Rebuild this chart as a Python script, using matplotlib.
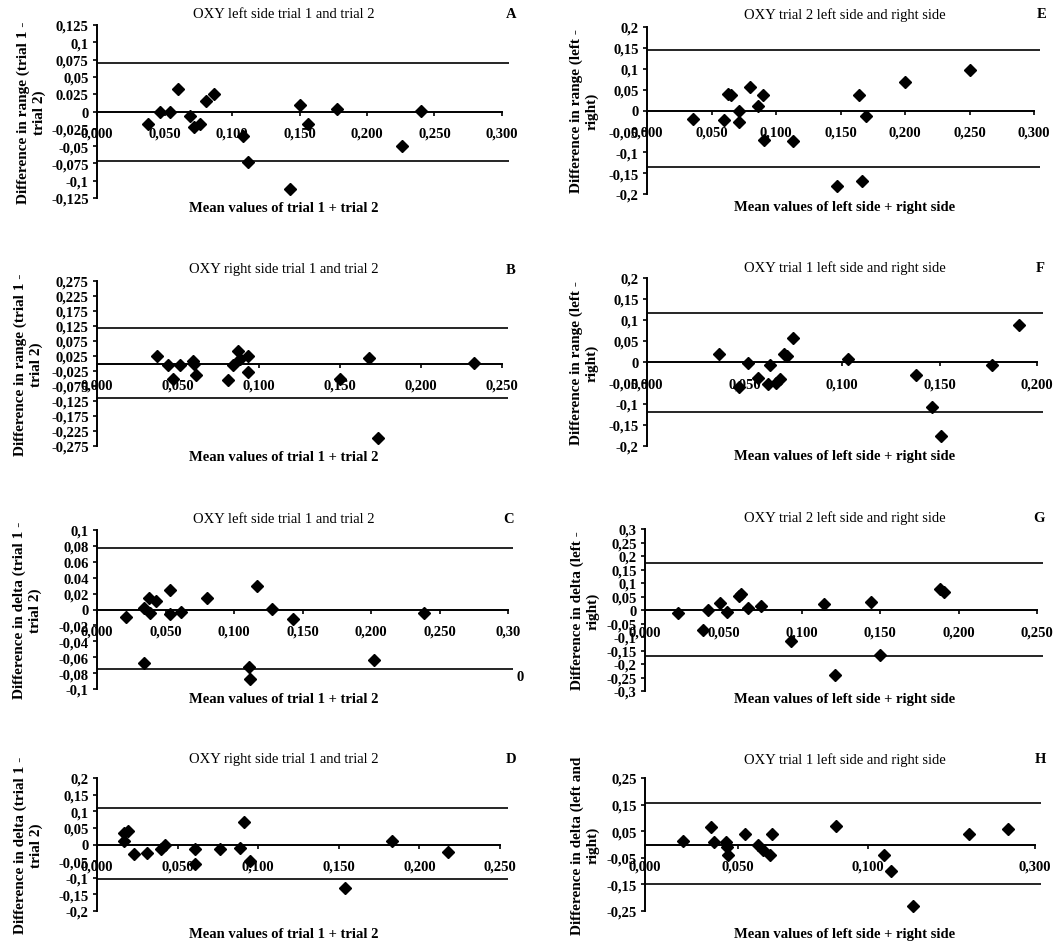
import matplotlib
matplotlib.use("Agg")
import matplotlib.pyplot as plt

plt.rcParams['font.family'] = ['Liberation Serif', 'DejaVu Serif']

W, H = 1059, 945

# ---- data ----
# A: OXY left side, range, trial 1 vs trial 2
a_x = [0.038, 0.047, 0.054, 0.060, 0.069, 0.072, 0.076, 0.081, 0.087, 0.108,
       0.112, 0.143, 0.150, 0.156, 0.178, 0.226, 0.240]
a_y = [-0.018, 0.000, 0.000, 0.032, -0.006, -0.022, -0.018, 0.015, 0.026, -0.036,
       -0.073, -0.112, 0.010, -0.018, 0.004, -0.050, 0.001]
a_limits = [0.070, -0.072]
a_yticks = [0.125, 0.1, 0.075, 0.05, 0.025, 0, -0.025, -0.05, -0.075, -0.1, -0.125]
a_ylabels = ['0,125', '0,1', '0,075', '0,05', '0.025', '0', '-0,025', '-0,05',
             '-0,075', '-0,1', '-0,125']
a_xticks = [0, 0.05, 0.1, 0.15, 0.2, 0.25, 0.3]
a_xlabels = ['0,000', '0,050', '0,100', '0,150', '0,200', '0,250', '0,300']

# B: OXY right side, range, trial 1 vs trial 2
b_x = [0.037, 0.044, 0.051, 0.047, 0.059, 0.060, 0.061, 0.081, 0.084, 0.087,
       0.088, 0.093, 0.093, 0.150, 0.168, 0.233, 0.1735]
b_y = [0.024, -0.006, -0.006, -0.052, 0.009, 0.000, -0.039, -0.055, -0.006, 0.042,
       0.014, 0.024, -0.028, -0.052, 0.017, 0.003, -0.248]
b_limits = [0.117, -0.114]
b_yticks = [0.275, 0.225, 0.175, 0.125, 0.075, 0.025, -0.025, -0.075, -0.125,
            -0.175, -0.225, -0.275]
b_ylabels = ['0,275', '0,225', '0,175', '0,125', '0,075', '0,025', '-0,025',
             '-0,075', '-0,125', '-0,175', '-0,225', '-0,275']
b_xticks = [0, 0.05, 0.1, 0.15, 0.2, 0.25]
b_xlabels = ['0,000', '0,050', '0,100', '0,150', '0,200', '0,250']

# C: OXY left side, delta, trial 1 vs trial 2
c_x = [0.021, 0.034, 0.038, 0.039, 0.043, 0.053, 0.053, 0.061, 0.080, 0.034,
       0.117, 0.111, 0.112, 0.128, 0.143, 0.239, 0.202]
c_y = [-0.010, 0.002, 0.014, -0.004, 0.011, 0.025, -0.006, -0.003, 0.015, -0.067,
       0.029, -0.072, -0.088, 0.001, -0.012, -0.004, -0.064]
c_limits = [0.0775, -0.0744]
c_yticks = [0.1, 0.08, 0.06, 0.04, 0.02, 0, -0.02, -0.04, -0.06, -0.08, -0.1]
c_ylabels = ['0,1', '0,08', '0.06', '0.04', '0,02', '0', '-0,02', '-0,04',
             '-0,06', '-0,08', '-0,1']
c_xticks = [0, 0.05, 0.1, 0.15, 0.2, 0.25, 0.3]
c_xlabels = ['0,000', '0,050', '0,100', '0,150', '0,200', '0,250', '0,30']

# D: OXY right side, delta, trial 1 vs trial 2
d_x = [0.017, 0.019, 0.017, 0.023, 0.031, 0.040, 0.042, 0.061, 0.061, 0.076,
       0.089, 0.091, 0.095, 0.154, 0.183, 0.218]
d_y = [0.035, 0.040, 0.010, -0.030, -0.025, -0.015, 0.000, -0.015, -0.060, -0.015,
       -0.012, 0.068, -0.050, -0.130, 0.012, -0.024]
d_limits = [0.110, -0.105]
d_yticks = [0.2, 0.15, 0.1, 0.05, 0, -0.05, -0.1, -0.15, -0.2]
d_ylabels = ['0,2', '0,15', '0,1', '0,05', '0', '-0,05', '-0,1', '-0,15', '-0,2']
d_xticks = [0, 0.05, 0.1, 0.15, 0.2, 0.25]
d_xlabels = ['0,000', '0,050', '0,100', '0,150', '0,200', '0,250']

# E: OXY trial 2, range, left vs right
e_x = [0.036, 0.060, 0.063, 0.065, 0.071, 0.071, 0.080, 0.086, 0.090, 0.091,
       0.113, 0.147, 0.164, 0.170, 0.167, 0.200, 0.250]
e_y = [-0.020, -0.022, 0.040, 0.037, -0.002, -0.028, 0.057, 0.010, 0.037, -0.070,
       -0.074, -0.182, 0.037, -0.012, -0.168, 0.068, 0.097]
e_limits = [0.145, -0.136]
e_yticks = [0.2, 0.15, 0.1, 0.05, 0, -0.05, -0.1, -0.15, -0.2]
e_ylabels = ['0,2', '0,15', '0,1', '0,05', '0', '-0,05', '-0,1', '-0,15', '-0,2']
e_xticks = [0, 0.05, 0.1, 0.15, 0.2, 0.25, 0.3]
e_xlabels = ['0,000', '0,050', '0,100', '0,150', '0,200', '0,250', '0,300']

# F: OXY trial 1, range, left vs right
f_x = [0.037, 0.047, 0.052, 0.057, 0.062, 0.063, 0.068, 0.066, 0.070, 0.072,
       0.075, 0.103, 0.138, 0.146, 0.151, 0.177, 0.191]
f_y = [0.018, -0.060, -0.002, -0.037, -0.053, -0.008, -0.040, -0.049, 0.020, 0.014,
       0.058, 0.008, -0.032, -0.107, -0.176, -0.006, 0.087]
f_limits = [0.117, -0.118]
f_yticks = [0.2, 0.15, 0.1, 0.05, 0, -0.05, -0.1, -0.15, -0.2]
f_ylabels = ['0,2', '0,15', '0,1', '0,05', '0', '-0,05', '-0,1', '-0,15', '-0,2']
f_xticks = [0, 0.05, 0.1, 0.15, 0.2]
f_xlabels = ['0,000', '0,050', '0,100', '0,150', '0,200']

# G: OXY trial 2, delta, left vs right
g_x = [0.021, 0.037, 0.040, 0.048, 0.052, 0.061, 0.060, 0.066, 0.074, 0.093,
       0.114, 0.121, 0.144, 0.150, 0.188, 0.191]
g_y = [-0.011, -0.073, 0.001, 0.026, -0.009, 0.059, 0.053, 0.006, 0.016, -0.114,
       0.022, -0.241, 0.031, -0.167, 0.078, 0.065]
g_limits = [0.174, -0.171]
g_yticks = [0.3, 0.25, 0.2, 0.15, 0.1, 0.05, 0, -0.05, -0.1, -0.15, -0.2, -0.25, -0.3]
g_ylabels = ['0,3', '0,25', '0,2', '0,15', '0,1', '0,05', '0', '-0,05', '-0,1',
             '-0,15', '-0,2', '-0,25', '-0,3']
g_xticks = [0, 0.05, 0.1, 0.15, 0.2, 0.25]
g_xlabels = ['0,000', '0,050', '0,100', '0,150', '0,200', '0,250']

# H: OXY trial 1, delta, left vs right
h_x = [0.029, 0.051, 0.053, 0.062, 0.063, 0.064, 0.077, 0.087, 0.091, 0.096,
       0.098, 0.147, 0.184, 0.189, 0.206, 0.249, 0.279]
h_y = [0.013, 0.065, 0.010, 0.010, -0.010, -0.040, 0.040, 0.000, -0.020, -0.040,
       0.040, 0.070, -0.040, -0.100, -0.230, 0.040, 0.060]
h_limits = [0.155, -0.148]
h_yticks = [0.25, 0.15, 0.05, -0.05, -0.15, -0.25]
h_ylabels = ['0,25', '0,15', '0,05', '-0,05', '-0,15', '-0,25']
# the scan prints only four x labels here, and not on an even spacing
h_xticks = [0, 0.0715, 0.1715, 0.3]
h_xlabels = ['0,000', '0,050', '0,100', '0,300']

# ---- layout in pixels: spine x, axis end x, line end x, top y, bottom y ----
boxes = {
    'A': (97, 502, 509, 26, 199),
    'B': (97, 502, 508, 282, 447),
    'C': (97, 508, 513, 531, 690),
    'D': (97, 500, 508, 779, 912),
    'E': (647, 1034, 1040, 28, 195),
    'F': (647, 1037, 1043, 279, 447),
    'G': (645, 1037, 1043, 530, 692),
    'H': (645, 1035, 1041, 779, 912),
}

fig = plt.figure(figsize=(W / 100, H / 100), dpi=100)


def panel(key, xs, ys, limits, yticks, ylabels, xticks, xlabels,
          title, xlab, ylab, title_y, xlab_y, ylab_x, mid_x, letter_x):
    L, axend, lend, T, B = boxes[key]
    ax = fig.add_axes([L / W, 1 - B / H, (lend - L) / W, (B - T) / H])
    xmax = xticks[-1]
    ax.set_xlim(0, xmax * (lend - L) / (axend - L))
    ax.set_ylim(min(yticks), max(yticks))
    for s in ['top', 'right']:
        ax.spines[s].set_visible(False)
    ax.spines['bottom'].set_position(('data', 0))
    ax.spines['bottom'].set_bounds(0, xmax)
    ax.spines['bottom'].set_linewidth(1.4)
    ax.spines['left'].set_linewidth(1.4)
    ax.axhline(limits[0], color='black', lw=1.2)
    ax.axhline(limits[1], color='black', lw=1.2)
    ax.plot(xs, ys, 'D', color='black', ms=6, clip_on=False, zorder=5)
    ax.set_yticks(yticks)
    ax.set_yticklabels(ylabels, fontsize=10.5, fontweight='bold')
    ax.set_xticks(xticks)
    ax.set_xticklabels(xlabels, fontsize=10.5, fontweight='bold')
    ax.tick_params(axis='y', direction='out', length=3, width=1.2, pad=3)
    ax.tick_params(axis='x', direction='out', length=3, width=1.2, pad=8)
    fig.text(mid_x / W, 1 - title_y / H, title, fontsize=10.5, ha='center', va='center')
    fig.text(letter_x / W, 1 - title_y / H, key, fontsize=10.5, fontweight='bold',
             ha='center', va='center')
    fig.text(mid_x / W, 1 - xlab_y / H, xlab, fontsize=10.5, fontweight='bold',
             ha='center', va='center')
    fig.text(ylab_x / W, 1 - (T + B) / 2 / H, ylab, fontsize=11, fontweight='bold',
             rotation=90, ha='center', va='center', multialignment='center',
             linespacing=1.2)
    return ax


trial_x = 'Mean values of trial 1 + trial 2'
side_x = 'Mean values of left side + right side'

panel('A', a_x, a_y, a_limits, a_yticks, a_ylabels, a_xticks, a_xlabels,
      'OXY left side trial 1 and trial 2', trial_x,
      'Difference in range (trial 1 -\ntrial 2)', 15, 209, 31, 284, 511)
panel('B', b_x, b_y, b_limits, b_yticks, b_ylabels, b_xticks, b_xlabels,
      'OXY right side trial 1 and trial 2', trial_x,
      'Difference in range (trial 1 -\ntrial 2)', 270, 458, 28, 284, 511)
axc = panel('C', c_x, c_y, c_limits, c_yticks, c_ylabels, c_xticks, c_xlabels,
            'OXY left side trial 1 and trial 2', trial_x,
            'Difference in delta (trial 1 -\ntrial 2)', 520, 700, 27, 284, 509)
axc.text(0.309, -0.0845, '0', fontsize=10.5, fontweight='bold', ha='center', va='center')
panel('D', d_x, d_y, d_limits, d_yticks, d_ylabels, d_xticks, d_xlabels,
      'OXY right side trial 1 and trial 2', trial_x,
      'Difference in delta (trial 1 -\ntrial 2)', 760, 935, 28, 284, 511)
panel('E', e_x, e_y, e_limits, e_yticks, e_ylabels, e_xticks, e_xlabels,
      'OXY trial 2 left side and right side', side_x,
      'Difference in range (left -\nright)', 15, 207, 584, 845, 1042)
panel('F', f_x, f_y, f_limits, f_yticks, f_ylabels, f_xticks, f_xlabels,
      'OXY trial 1 left side and right side', side_x,
      'Difference in range (left -\nright)', 268, 457, 584, 845, 1040)
panel('G', g_x, g_y, g_limits, g_yticks, g_ylabels, g_xticks, g_xlabels,
      'OXY trial 2 left side and right side', side_x,
      'Difference in delta (left -\nright)', 518, 700, 585, 845, 1039)
panel('H', h_x, h_y, h_limits, h_yticks, h_ylabels, h_xticks, h_xlabels,
      'OXY trial 1 left side and right side', side_x,
      'Difference in delta (left and\nright)', 760, 935, 585, 845, 1040)

fig.savefig('out.png', dpi=100)
